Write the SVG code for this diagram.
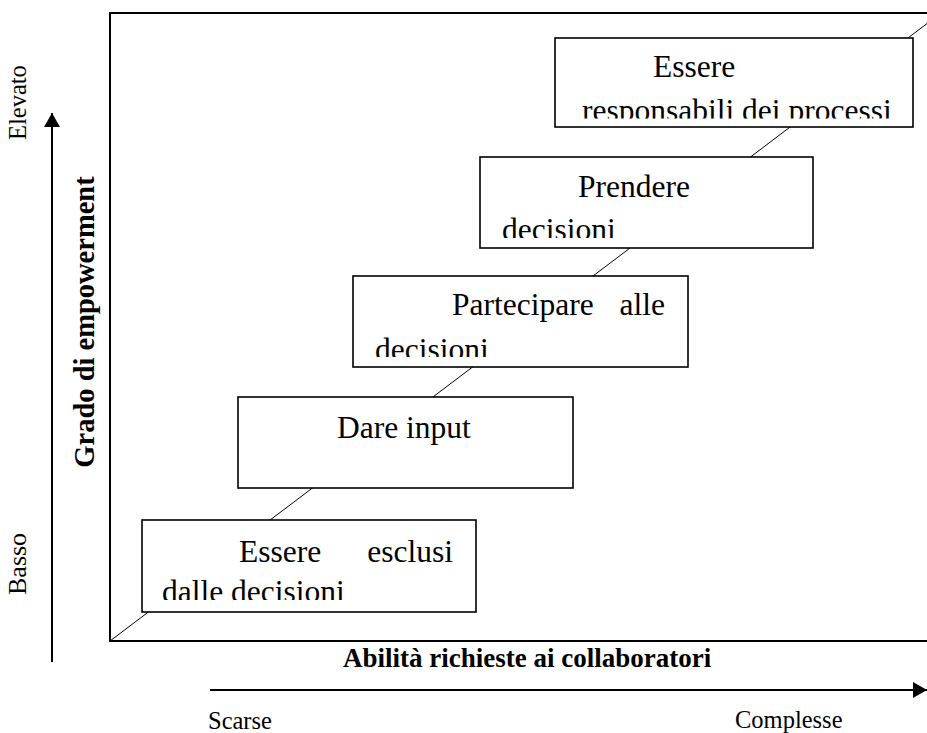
<svg xmlns="http://www.w3.org/2000/svg" width="927" height="733" viewBox="0 0 927 733">
<style>
.frame{fill:none;stroke:#000;stroke-width:2}
.box{fill:#fff;stroke:#000;stroke-width:1.6}
.conn{stroke:#000;stroke-width:1;fill:none}
.axis{stroke:#000;stroke-width:2;fill:none}
.bt{font-family:"Liberation Serif","Times New Roman",serif;font-size:31.5px;fill:#000}
.lbl{font-family:"Liberation Serif","Times New Roman",serif;font-size:24.5px;fill:#000}
.bold{font-family:"Liberation Serif","Times New Roman",serif;font-size:27px;font-weight:bold;fill:#000}
</style>
<defs>
<marker id="ah" markerUnits="userSpaceOnUse" markerWidth="14" markerHeight="16" refX="14" refY="8" orient="auto">
<path d="M0,0 L14,8 L0,16 Z" fill="#000"/>
</marker>
<clipPath id="c1"><rect x="142" y="520" width="334" height="80"/></clipPath>
<clipPath id="c3"><rect x="353" y="276" width="335" height="81"/></clipPath>
<clipPath id="c4"><rect x="480" y="157" width="333" height="81"/></clipPath>
<clipPath id="c5"><rect x="555" y="38" width="358" height="80.5"/></clipPath>
</defs>
<rect class="frame" x="110" y="13" width="830" height="628"/>
<g id="connectors">
<line class="conn" x1="110" y1="641" x2="941" y2="13"/>
</g>
<g id="axes">
<line class="axis" x1="52" y1="662" x2="52" y2="113" marker-end="url(#ah)"/>
<line class="axis" x1="210" y1="690" x2="927" y2="690" marker-end="url(#ah)"/>
</g>
<g id="box1">
<rect class="box" x="142" y="520" width="334" height="92"/>
<g clip-path="url(#c1)">
<text class="bt" x="239" y="562">Essere</text>
<text class="bt" x="453" y="562" text-anchor="end">esclusi</text>
<text class="bt" x="162" y="601.5">dalle decisioni</text>
</g>
</g>
<g id="box2">
<rect class="box" x="238" y="397" width="335" height="91"/>
<text class="bt" x="337" y="438">Dare input</text>
</g>
<g id="box3">
<rect class="box" x="353" y="276" width="335" height="91"/>
<g clip-path="url(#c3)">
<text class="bt" x="452" y="315">Partecipare</text>
<text class="bt" x="665" y="315" text-anchor="end">alle</text>
<text class="bt" x="375" y="360">decisioni</text>
</g>
</g>
<g id="box4">
<rect class="box" x="480" y="157" width="333" height="91"/>
<g clip-path="url(#c4)">
<text class="bt" x="578" y="197">Prendere</text>
<text class="bt" x="502" y="240">decisioni</text>
</g>
</g>
<g id="box5">
<rect class="box" x="555" y="38" width="358" height="89"/>
<g clip-path="url(#c5)">
<text class="bt" x="653" y="77">Essere</text>
<text class="bt" x="582" y="121">responsabili dei processi</text>
</g>
</g>
<g id="labels">
<text class="bold" x="343" y="667">Abilità richieste ai collaboratori</text>
<text class="lbl" x="208" y="729">Scarse</text>
<text class="lbl" x="735" y="728">Complesse</text>
<text class="bold" style="font-size:28.5px" transform="translate(94,322) rotate(-90)" text-anchor="middle">Grado di empowerment</text>
<text class="lbl" transform="translate(26,140) rotate(-90)">Elevato</text>
<text class="lbl" style="font-size:26px" transform="translate(26,595) rotate(-90)">Basso</text>
</g>
</svg>
